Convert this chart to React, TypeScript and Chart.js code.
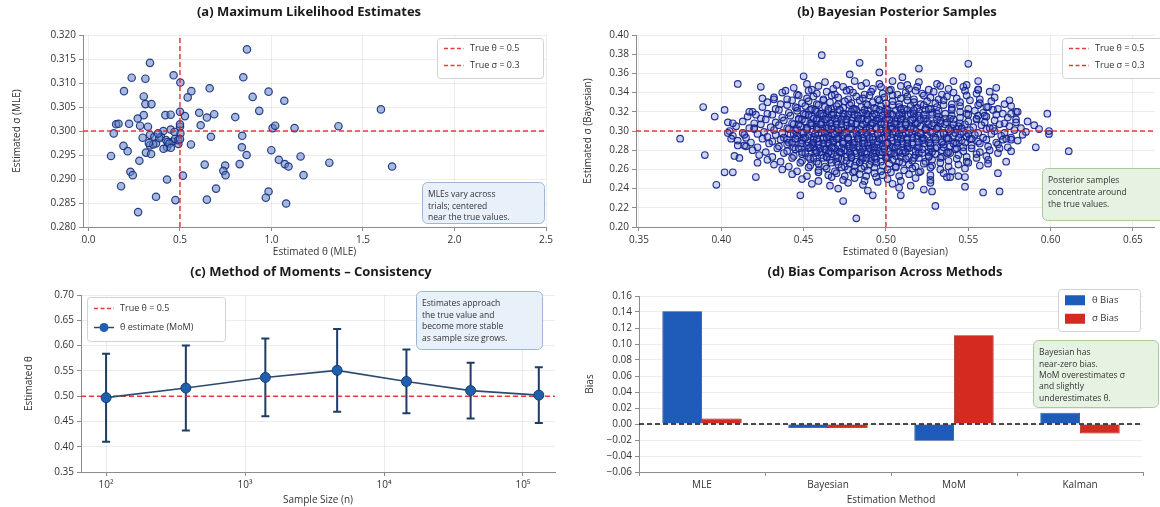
import React, { useEffect, useRef } from "react";
import { Chart, registerables } from "chart.js";

Chart.register(...registerables);

const FONT = "'Open Sans', 'Noto Sans', 'DejaVu Sans', sans-serif";
Chart.defaults.font.family = FONT;

// ---------- shared values ----------
const trueTheta = 0.5;
const trueSigma = 0.3;

// ---------- (a) MLE estimates ----------
const mleTheta = [
  0.866, 0.336, 0.236, 0.311, 0.465, 0.502, 0.194, 0.562, 0.662, 0.846, 0.897, 0.984, 1.07, 0.933,
  0.302, 0.311, 0.344, 0.542, 0.302, 0.269, 0.42, 0.449, 0.5, 0.527, 0.605, 0.647, 0.687, 0.802,
  0.613, 1.006, 1.02, 1.126, 0.151, 0.164, 0.222, 0.138, 0.282, 0.325, 0.296, 0.336, 0.36, 0.396,
  0.424, 0.449, 0.46, 0.5, 0.502, 0.491, 0.56, 0.669, 0.84, 0.838, 0.864, 0.191, 0.214, 0.123,
  0.336, 0.369, 0.429, 0.314, 0.342, 0.278, 0.635, 0.747, 0.826, 0.999, 1.04, 1.073, 1.093, 1.159,
  1.175, 0.229, 0.242, 0.516, 0.429, 0.737, 0.749, 0.178, 0.697, 0.369, 0.475, 0.647, 0.984, 0.969,
  1.08, 0.271, 0.433, 0.409, 0.387, 0.354, 0.473, 0.442, 0.491, 1.598, 1.366, 1.316, 1.659, 0.38,
  0.45, 0.47, 0.5, 0.5, 0.33, 0.41,
];
const mleSigma = [
  0.317, 0.3142, 0.3111, 0.3109, 0.3116, 0.3101, 0.3083, 0.3083, 0.3089, 0.3112, 0.3071, 0.3082, 0.3063, 0.3042,
  0.3072, 0.3056, 0.3056, 0.307, 0.3033, 0.3026, 0.3033, 0.3034, 0.304, 0.3031, 0.3038, 0.3028, 0.3035, 0.3029,
  0.3012, 0.3006, 0.3011, 0.3006, 0.3014, 0.3015, 0.3015, 0.2995, 0.3011, 0.3009, 0.2986, 0.2992, 0.2988, 0.2988,
  0.2981, 0.3003, 0.2978, 0.3009, 0.2995, 0.2973, 0.2972, 0.2988, 0.299, 0.2966, 0.295, 0.2969, 0.2958, 0.2948,
  0.297, 0.2974, 0.2966, 0.2955, 0.2952, 0.2938, 0.293, 0.2928, 0.2931, 0.296, 0.294, 0.2931, 0.2926, 0.2947,
  0.2908, 0.2915, 0.2908, 0.2907, 0.2899, 0.2917, 0.2908, 0.2885, 0.288, 0.2863, 0.2856, 0.2857, 0.2874, 0.2861,
  0.2849, 0.2831, 0.2977, 0.3, 0.2985, 0.2972, 0.2984, 0.2974, 0.2981, 0.3045, 0.301, 0.2934, 0.2926, 0.2995,
  0.2965, 0.2998, 0.3014, 0.2983, 0.2975, 0.2963,
];
const mleXTicks = [0, 0.5, 1.0, 1.5, 2.0, 2.5];
const mleYTicks = [0.28, 0.285, 0.29, 0.295, 0.3, 0.305, 0.31, 0.315, 0.32];

// ---------- (b) Bayesian posterior samples (theta, sigma in thousandths) ----------
const bayesCloud: number[][] = [
  [452,349],[463,351],[470,348],[481,352],[488,350],[496,349],[504,352],[513,348],[520,351],[531,349],[541,352],[549,348],
  [444,345],[455,343],[459,347],[468,344],[474,346],[478,343],[485,347],[492,344],[497,346],[503,343],[509,347],[514,344],[519,346],[526,343],[533,347],[538,344],[547,346],[556,343],
  [437,340],[446,338],[453,342],[458,339],[464,341],[469,338],[476,342],[480,340],[487,338],[491,341],[498,339],[502,342],[507,338],[512,340],[518,342],[522,339],[529,341],[534,338],[541,340],[548,342],[555,339],[563,341],
  [432,335],[440,333],[447,337],[452,334],[456,336],[462,333],[467,337],[471,335],[477,333],[482,336],[486,334],[490,337],[495,333],[499,335],[504,337],[509,334],[513,336],[517,333],[523,337],[527,335],[532,333],[537,336],[543,334],[549,337],[557,333],[566,335],
  [428,330],[436,328],[443,332],[449,329],[453,331],[458,328],[462,332],[466,330],[471,328],[475,331],[479,329],[484,332],[488,328],[492,330],[496,332],[500,329],[504,331],[508,328],[513,332],[517,330],[521,328],[525,331],[530,329],[535,332],[540,328],[545,330],[551,332],[557,329],[564,331],[572,328],
  [425,325],[433,323],[440,327],[446,324],[451,326],[455,323],[459,327],[463,325],[467,323],[470,326],[474,324],[478,327],[481,323],[485,325],[489,327],[493,324],[497,326],[500,323],[504,327],[508,325],[511,323],[515,326],[519,324],[523,327],[527,323],[531,325],[535,327],[540,324],[545,326],[550,323],[556,327],[561,325],[568,323],[576,326],
  [419,320],[428,318],[435,322],[441,319],[446,321],[450,318],[454,322],[458,320],[461,318],[465,321],[468,319],[472,322],[475,318],[479,320],[482,322],[486,319],[489,321],[493,318],[496,322],[499,320],[503,318],[506,321],[510,319],[513,322],[517,318],[520,320],[524,322],[528,319],[532,321],[536,318],[540,322],[545,320],[549,318],[554,321],[559,319],[565,322],[571,318],[579,320],
  [416,315],[424,313],[431,317],[437,314],[442,316],[447,313],[451,317],[455,315],[458,313],[462,316],[465,314],[468,317],[471,313],[474,315],[477,317],[480,314],[483,316],[486,313],[489,317],[492,315],[495,313],[498,316],[501,314],[504,317],[507,313],[510,315],[513,317],[517,314],[520,316],[524,313],[528,317],[532,315],[536,313],[540,316],[545,314],[550,317],[555,313],[561,315],[567,317],[574,314],
  [413,310],[420,308],[427,312],[433,309],[438,311],[443,308],[447,312],[451,310],[455,308],[458,311],[461,309],[464,312],[467,308],[470,310],[473,312],[476,309],[479,311],[482,308],[485,312],[488,310],[491,308],[494,311],[497,309],[500,312],[503,308],[506,310],[509,312],[512,309],[515,311],[518,308],[521,312],[525,310],[529,308],[533,311],[537,309],[541,312],[545,308],[550,310],[555,312],[560,309],[566,311],[572,308],[579,312],[586,310],
  [409,305],[417,303],[424,307],[430,304],[435,306],[440,303],[444,307],[448,305],[452,303],[455,306],[458,304],[461,307],[464,303],[467,305],[470,307],[473,304],[476,306],[479,303],[482,307],[485,305],[488,303],[491,306],[494,304],[497,307],[500,303],[503,305],[506,307],[509,304],[512,306],[515,303],[518,307],[521,305],[524,303],[528,306],[532,304],[536,307],[540,303],[544,305],[548,307],[553,304],[558,306],[563,303],[569,307],[575,305],[582,303],[590,306],
  [405,300],[413,298],[420,302],[426,299],[432,301],[437,298],[441,302],[445,300],[449,298],[452,301],[455,299],[458,302],[461,298],[464,300],[467,302],[470,299],[473,301],[476,298],[479,302],[482,300],[485,298],[488,301],[491,299],[494,302],[497,298],[500,300],[503,302],[506,299],[509,301],[512,298],[515,302],[518,300],[521,298],[524,301],[527,299],[531,302],[535,298],[539,300],[543,302],[547,299],[551,301],[556,298],[561,302],[566,300],[572,298],[578,301],[585,299],[593,302],
  [407,295],[415,293],[422,297],[428,294],[433,296],[438,293],[442,297],[446,295],[450,293],[453,296],[456,294],[459,297],[462,293],[465,295],[468,297],[471,294],[474,296],[477,293],[480,297],[483,295],[486,293],[489,296],[492,294],[495,297],[498,293],[501,295],[504,297],[507,294],[510,296],[513,293],[516,297],[519,295],[522,293],[525,296],[529,294],[533,297],[537,293],[541,295],[545,297],[549,294],[554,296],[559,293],[564,297],[570,295],[576,293],[583,296],[440,291],[466,291],
  [410,290],[418,288],[425,292],[431,289],[436,291],[441,288],[445,292],[449,290],[453,288],[456,291],[459,289],[462,292],[465,288],[468,290],[471,292],[474,289],[477,291],[480,288],[483,292],[486,290],[489,288],[492,291],[495,289],[498,292],[501,288],[504,290],[507,292],[510,289],[513,291],[516,288],[519,292],[522,290],[526,288],[530,291],[534,289],[538,292],[542,288],[546,290],[551,292],[556,289],[561,291],[567,288],[573,292],[580,290],[455,286],[478,286],
  [414,285],[422,283],[429,287],[435,284],[440,286],[444,283],[448,287],[452,285],[456,283],[459,286],[462,284],[465,287],[468,283],[471,285],[474,287],[477,284],[480,286],[483,283],[486,287],[489,285],[492,283],[495,286],[498,284],[501,287],[504,283],[507,285],[510,287],[513,284],[516,286],[519,283],[523,287],[527,285],[531,283],[535,286],[539,284],[543,287],[547,283],[552,285],[557,287],[562,284],[568,286],[574,283],[463,281],[491,281],
  [419,280],[427,278],[434,282],[440,279],[445,281],[449,278],[453,282],[457,280],[460,278],[463,281],[466,279],[469,282],[472,278],[475,280],[478,282],[481,279],[484,281],[487,278],[490,282],[493,280],[496,278],[499,281],[502,279],[505,282],[508,278],[511,280],[514,282],[518,279],[522,281],[526,278],[530,282],[534,280],[538,278],[542,281],[547,279],[552,282],[557,278],[563,280],[569,282],[576,279],
  [423,275],[431,273],[438,277],[444,274],[449,276],[453,273],[457,277],[461,275],[464,273],[467,276],[470,274],[473,277],[476,273],[479,275],[482,277],[485,274],[488,276],[491,273],[494,277],[497,275],[500,273],[503,276],[506,274],[510,277],[514,273],[518,275],[522,277],[526,274],[530,276],[534,273],[539,277],[544,275],[549,273],[555,276],[561,274],[568,277],
  [428,270],[436,268],[443,272],[449,269],[454,271],[458,268],[462,272],[466,270],[470,268],[473,271],[476,269],[479,272],[482,268],[485,270],[488,272],[491,269],[494,271],[497,268],[500,272],[504,270],[508,268],[512,271],[516,269],[520,272],[524,268],[528,270],[533,272],[538,269],[543,271],[549,268],[555,272],[562,270],
  [432,265],[441,263],[448,267],[454,264],[459,266],[463,263],[467,267],[471,265],[475,263],[478,266],[481,264],[484,267],[487,263],[490,265],[494,267],[498,264],[502,266],[506,263],[510,267],[514,265],[518,263],[523,266],[528,264],[533,267],[538,263],[544,265],[550,267],[557,264],
  [437,260],[446,258],[453,262],[459,259],[464,261],[469,258],[473,262],[477,260],[481,258],[485,261],[489,259],[493,262],[497,258],[501,260],[506,262],[511,259],[516,261],[521,258],[527,262],[533,260],[540,258],[548,261],
  [443,255],[452,253],[459,257],[465,254],[470,256],[475,253],[480,257],[484,255],[488,253],[493,256],[498,254],[503,257],[508,253],[514,255],[520,257],[527,254],[535,256],[544,253],
  [449,250],[459,248],[467,252],[474,249],[481,251],[487,248],[494,252],[501,250],[509,248],[518,251],[527,249],[537,252],
  [455,245],[466,243],[477,246],[486,244],[495,247],[504,245],[515,243],[527,246],
  [471,240],[489,238],[508,241],[523,239],
];
const bayesCore: number[][] = [
  [443,288],[449,287],[456,288],[462,287],[468,288],[474,287],[481,288],[487,287],[494,288],[500,287],[507,288],[513,287],[520,288],[527,287],[534,288],[541,287],[548,288],
  [445,292],[451,293],[458,292],[464,293],[470,292],[477,293],[483,292],[490,293],[496,292],[503,293],[509,292],[516,293],[523,292],[530,293],[537,292],[544,293],[552,292],
  [444,297],[450,298],[457,297],[463,298],[469,297],[475,298],[482,297],[488,298],[495,297],[501,298],[508,297],[514,298],[521,297],[528,298],[535,297],[542,298],[550,297],
  [446,302],[452,303],[459,302],[465,303],[471,302],[478,303],[484,302],[490,303],[497,302],[504,303],[510,302],[517,303],[524,302],[531,303],[538,302],[546,303],
  [447,307],[454,308],[460,307],[466,308],[473,307],[479,308],[486,307],[492,308],[499,307],[505,308],[512,307],[519,308],[526,307],[533,308],[541,307],
  [449,312],[456,313],[463,312],[469,313],[476,312],[483,313],[489,312],[496,313],[502,312],[509,313],[516,312],[523,313],[531,312],[539,313],
  [447,282],[454,283],[460,282],[467,283],[473,282],[480,283],[486,282],[493,283],[499,282],[506,283],[513,282],[520,283],[527,282],[535,283],[543,282],
  [451,277],[458,278],[465,277],[472,278],[478,277],[485,278],[492,277],[498,278],[505,277],[512,278],[520,277],[528,278],[537,277],
  [453,317],[460,318],[467,317],[474,318],[481,317],[488,318],[494,317],[501,318],[508,317],[515,318],[523,317],[531,318],
  [457,322],[465,323],[472,322],[480,323],[487,322],[494,323],[501,322],[509,323],[517,322],[526,323],
  [456,272],[464,273],[471,272],[479,273],[486,272],[493,273],[501,272],[509,273],[517,272],[526,273],
];
const bayesOutliers: number[][] = [
  [375,292],[389,325],[390,275],[397,244],[402,322],[396,315],[410,349],[404,309],[407,308],[404,298],[406,292],[402,257],
  [407,257],[408,274],[411,272],[410,285],[415,284],[421,252],[422,267],[424,346],[425,334],[432,333],[417,320],[421,317],
  [414,296],[420,303],[439,342],[445,325],[448,233],[450,357],[461,379],[474,227],[478,359],[484,371],[482,209],[492,233],
  [496,361],[509,233],[510,356],[520,365],[530,222],[528,237],[539,252],[548,252],[548,242],[550,370],[556,352],[559,236],
  [567,345],[569,237],[568,256],[573,268],[575,332],[576,318],[579,309],[580,320],[571,291],[576,291],[591,283],[598,318],
  [599,297],[599,300],[611,279],[562,266],[556,316],[560,316],[562,325],[565,303],[556,343],
];
const bayesXTicks = [0.35, 0.4, 0.45, 0.5, 0.55, 0.6, 0.65];
const bayesYTicks = [0.2, 0.22, 0.24, 0.26, 0.28, 0.3, 0.32, 0.34, 0.36, 0.38, 0.4];

// ---------- (c) Method of moments ----------
const sampleSizes = [100, 375, 1400, 4600, 14500, 42000, 130000];
const momMean = [0.497, 0.516, 0.537, 0.551, 0.529, 0.511, 0.502];
const momErr = [0.087, 0.084, 0.077, 0.082, 0.063, 0.055, 0.055];
const momXTicks = [100, 1000, 10000, 100000];
const momYTicks = [0.35, 0.4, 0.45, 0.5, 0.55, 0.6, 0.65, 0.7];

// ---------- (d) Bias comparison ----------
const methods = ["MLE", "Bayesian", "MoM", "Kalman"];
const thetaBias = [0.141, -0.005, -0.021, 0.014];
const sigmaBias = [0.007, -0.005, 0.111, -0.012];
const biasYTicks = [-0.06, -0.04, -0.02, 0, 0.02, 0.04, 0.06, 0.08, 0.1, 0.12, 0.14, 0.16];

// ---------- styling ----------
const RED = "rgba(226, 40, 40, 0.9)";
const GRID = "rgba(0,0,0,0.07)";
const AXIS = "#8c8c8c";
const TXT = "#333333";
const BLUE_BAR = "#1f5bb8";
const RED_BAR = "#d42b20";
const TICK_SIZE = 10;
const LABEL_SIZE = 10;

const fmt = (v: number, d: number) => v.toFixed(d).replace("-", "\u2212");
const SUP: Record<string, string> = { "0": "\u2070", "1": "\u00b9", "2": "\u00b2", "3": "\u00b3", "4": "\u2074", "5": "\u2075", "6": "\u2076" };

function axis(o: any) {
  return {
    type: o.type || "linear",
    min: o.min,
    max: o.max,
    afterBuildTicks: o.ticks ? (s: any) => { s.ticks = o.ticks.map((v: number) => ({ value: v })); } : undefined,
    afterFit: o.fit,
    ticks: { font: { family: FONT, size: TICK_SIZE }, color: TXT, padding: 3, callback: o.cb },
    grid: { color: GRID, tickLength: 4, tickColor: AXIS, drawOnChartArea: o.grid !== false },
    border: { color: AXIS, width: 1 },
    title: { display: true, text: o.title, font: { family: FONT, size: LABEL_SIZE }, color: TXT, padding: o.titlePad },
  };
}

type LegendItem = { label: string; kind: "dash" | "linemarker" | "rect"; color: string };
type Overlay = {
  title: string;
  titleX?: number;
  titleY: number;
  legend?: { x: number; y: number; w: number; h: number; rowH: number; font: number; items: LegendItem[] };
  note?: { x: number; y: number; w: number; h: number; fill: string; stroke: string; lines: string[]; font: number; rowH: number };
};

function overlay(o: Overlay) {
  return {
    id: "overlay",
    afterDraw(chart: any) {
      const ctx = chart.ctx as CanvasRenderingContext2D;
      const ca = chart.chartArea;
      ctx.save();
      ctx.fillStyle = "#1a1a1a";
      ctx.font = `bold 13px ${FONT}`;
      ctx.textAlign = "center";
      ctx.textBaseline = "middle";
      ctx.fillText(o.title, o.titleX ?? (ca.left + ca.right) / 2, o.titleY);
      if (o.legend) {
        const L = o.legend;
        ctx.beginPath();
        ctx.roundRect(L.x + 0.5, L.y + 0.5, L.w, L.h, 3);
        ctx.fillStyle = "rgba(255,255,255,0.9)";
        ctx.fill();
        ctx.strokeStyle = "#d2d2d2";
        ctx.lineWidth = 1;
        ctx.stroke();
        L.items.forEach((it, i) => {
          const cy = L.y + L.rowH * (i + 0.5) + 2;
          const x0 = L.x + 7;
          if (it.kind === "dash") {
            ctx.beginPath();
            ctx.setLineDash([4, 2.5]);
            ctx.strokeStyle = it.color;
            ctx.lineWidth = 1.5;
            ctx.moveTo(x0, cy);
            ctx.lineTo(x0 + 20, cy);
            ctx.stroke();
            ctx.setLineDash([]);
          } else if (it.kind === "linemarker") {
            ctx.beginPath();
            ctx.strokeStyle = "#2d4a6e";
            ctx.lineWidth = 1.5;
            ctx.moveTo(x0, cy);
            ctx.lineTo(x0 + 20, cy);
            ctx.stroke();
            ctx.beginPath();
            ctx.fillStyle = it.color;
            ctx.arc(x0 + 10, cy, 4.5, 0, Math.PI * 2);
            ctx.fill();
          } else {
            ctx.fillStyle = it.color;
            ctx.fillRect(x0, cy - 5, 20, 10);
          }
          ctx.fillStyle = TXT;
          ctx.font = `${L.font}px ${FONT}`;
          ctx.textAlign = "left";
          ctx.fillText(it.label, x0 + (it.kind === "rect" ? 27 : 26), cy);
        });
      }
      if (o.note) {
        const N = o.note;
        ctx.beginPath();
        ctx.roundRect(N.x + 0.5, N.y + 0.5, N.w, N.h, 5);
        ctx.fillStyle = N.fill;
        ctx.fill();
        ctx.strokeStyle = N.stroke;
        ctx.lineWidth = 1;
        ctx.stroke();
        ctx.fillStyle = TXT;
        ctx.font = `${N.font}px ${FONT}`;
        ctx.textAlign = "left";
        N.lines.forEach((ln, i) => {
          ctx.fillText(ln, N.x + 6, N.y + 7 + N.rowH * (i + 0.5));
        });
      }
      ctx.restore();
    },
  };
}

const noBlue = { fill: "#e8f0fa", stroke: "#9fb6d3" };
const noGreen = { fill: "#e6f3e2", stroke: "#a6cb9d" };

function refLine(label: string, pts: { x: number; y: number }[]) {
  return {
    label,
    data: pts,
    showLine: true,
    borderColor: RED,
    borderWidth: 1.5,
    borderDash: [5, 3],
    pointRadius: 0,
    fill: false,
    order: 0,
  };
}

function makeA(c: HTMLCanvasElement) {
  const xmin = -0.03, xmax = 2.5, ymin = 0.28, ymax = 0.32;
  return new Chart(c, {
    type: "scatter",
    data: {
      datasets: [
        refLine("True θ = 0.5", [{ x: trueTheta, y: ymin }, { x: trueTheta, y: ymax }]),
        refLine("True σ = 0.3", [{ x: xmin, y: trueSigma }, { x: xmax, y: trueSigma }]),
        {
          label: "MLE",
          data: mleTheta.map((t, i) => ({ x: t, y: mleSigma[i] })),
          pointRadius: 3.7,
          backgroundColor: "rgba(95,130,195,0.55)",
          borderColor: "rgba(22,45,125,0.9)",
          borderWidth: 1.2,
          order: 1,
        },
      ],
    } as any,
    options: {
      animation: false,
      responsive: false,
      events: [],
      layout: { padding: { left: 0, right: 34, top: 35, bottom: 0 } },
      plugins: { legend: { display: false }, tooltip: { enabled: false } },
      scales: {
        x: axis({ min: xmin, max: xmax, ticks: mleXTicks, cb: (v: number) => fmt(v, 1), fit: (s: any) => { s.height = 33; }, title: "Estimated θ (MLE)", titlePad: { top: 0, bottom: 2 } }),
        y: axis({ min: ymin, max: ymax, ticks: mleYTicks, cb: (v: number) => fmt(v, 3), fit: (s: any) => { s.width = 83; }, title: "Estimated σ (MLE)", titlePad: { top: 11, bottom: 0 } }),
      },
    } as any,
    plugins: [
      overlay({
        title: "(a) Maximum Likelihood Estimates",
        titleX: 309,
        titleY: 12,
        legend: { x: 437, y: 38, w: 106, h: 40, rowH: 17, font: 9, items: [
          { label: "True θ = 0.5", kind: "dash", color: RED },
          { label: "True σ = 0.3", kind: "dash", color: RED },
        ] },
        note: { x: 422, y: 182, w: 122, h: 41, ...noBlue, font: 8.5, rowH: 11.5, lines: ["MLEs vary across", "trials; centered", "near the true values."] },
      }),
    ],
  });
}

function makeB(c: HTMLCanvasElement) {
  const xmin = 0.3482, xmax = 0.6633, ymin = 0.2, ymax = 0.4;
  const pts = bayesCloud.concat(bayesCore, bayesOutliers).map(([t, s]) => ({ x: t / 1000, y: s / 1000 }));
  return new Chart(c, {
    type: "scatter",
    data: {
      datasets: [
        refLine("True θ = 0.5", [{ x: trueTheta, y: ymin }, { x: trueTheta, y: ymax }]),
        refLine("True σ = 0.3", [{ x: xmin, y: trueSigma }, { x: xmax, y: trueSigma }]),
        {
          label: "Posterior",
          data: pts,
          pointRadius: 3.3,
          backgroundColor: "rgba(60,90,195,0.26)",
          borderColor: "rgba(22,34,140,0.92)",
          borderWidth: 1.15,
          order: 1,
        },
      ],
    } as any,
    options: {
      animation: false,
      responsive: false,
      events: [],
      layout: { padding: { left: 0, right: 0, top: 35, bottom: 0 } },
      plugins: { legend: { display: false }, tooltip: { enabled: false } },
      scales: {
        x: axis({ min: xmin, max: xmax, ticks: bayesXTicks, cb: (v: number) => fmt(v, 2), fit: (s: any) => { s.height = 33; }, title: "Estimated θ (Bayesian)", titlePad: { top: 0, bottom: 2 } }),
        y: axis({ min: ymin, max: ymax, ticks: bayesYTicks, cb: (v: number) => fmt(v, 2), fit: (s: any) => { s.width = 54; }, title: "Estimated σ (Bayesian)", titlePad: { top: 0, bottom: 0 } }),
      },
    } as any,
    plugins: [
      overlay({
        title: "(b) Bayesian Posterior Samples",
        titleX: 315,
        titleY: 12,
        legend: { x: 480, y: 38, w: 115, h: 40, rowH: 17, font: 9, items: [
          { label: "True θ = 0.5", kind: "dash", color: RED },
          { label: "True σ = 0.3", kind: "dash", color: RED },
        ] },
        note: { x: 460, y: 168, w: 125, h: 52, ...noGreen, font: 8.5, rowH: 12, lines: ["Posterior samples", "concentrate around", "the true values."] },
      }),
    ],
  });
}

const errorBars = {
  id: "errorBars",
  beforeDatasetsDraw(chart: any) {
    const ctx = chart.ctx as CanvasRenderingContext2D;
    const xs = chart.scales.x, ys = chart.scales.y;
    ctx.save();
    ctx.strokeStyle = "#1d3c66";
    ctx.lineWidth = 2;
    sampleSizes.forEach((n, i) => {
      const px = xs.getPixelForValue(n);
      const top = ys.getPixelForValue(momMean[i] + momErr[i]);
      const bot = ys.getPixelForValue(momMean[i] - momErr[i]);
      ctx.beginPath();
      ctx.moveTo(px, top); ctx.lineTo(px, bot);
      ctx.moveTo(px - 4, top); ctx.lineTo(px + 4, top);
      ctx.moveTo(px - 4, bot); ctx.lineTo(px + 4, bot);
      ctx.stroke();
    });
    ctx.restore();
  },
};

function makeC(c: HTMLCanvasElement) {
  const xmin = 66, xmax = 170000;
  return new Chart(c, {
    type: "scatter",
    data: {
      datasets: [
        { ...refLine("True θ = 0.5", [{ x: xmin, y: trueTheta }, { x: xmax, y: trueTheta }]), order: 2 },
        {
          label: "θ estimate (MoM)",
          data: sampleSizes.map((n, i) => ({ x: n, y: momMean[i] })),
          showLine: true,
          borderColor: "#2d4a6e",
          borderWidth: 1.6,
          pointRadius: 5,
          pointBackgroundColor: "#1f5fae",
          pointBorderColor: "#173f73",
          pointBorderWidth: 1,
          order: 1,
        },
      ],
    } as any,
    options: {
      animation: false,
      responsive: false,
      events: [],
      layout: { padding: { left: 0, right: 25, top: 35, bottom: 0 } },
      plugins: { legend: { display: false }, tooltip: { enabled: false } },
      scales: {
        x: axis({ type: "logarithmic", min: xmin, max: xmax, ticks: momXTicks, cb: (v: number) => "10" + SUP[String(Math.round(Math.log10(v)))], fit: (s: any) => { s.height = 35; }, title: "Sample Size (n)", titlePad: { top: 0, bottom: 1 } }),
        y: axis({ min: 0.35, max: 0.7, ticks: momYTicks, cb: (v: number) => fmt(v, 2), fit: (s: any) => { s.width = 81; }, title: "Estimated θ", titlePad: { top: 23, bottom: 0 } }),
      },
    } as any,
    plugins: [
      errorBars,
      overlay({
        title: "(c) Method of Moments \u2013 Consistency",
        titleX: 311,
        titleY: 12,
        legend: { x: 87, y: 37, w: 138, h: 44, rowH: 19, font: 9, items: [
          { label: "True θ = 0.5", kind: "dash", color: RED },
          { label: "θ estimate (MoM)", kind: "linemarker", color: "#1f5fae" },
        ] },
        note: { x: 416, y: 31, w: 126, h: 58, ...noBlue, font: 8.5, rowH: 11.5, lines: ["Estimates approach", "the true value and", "become more stable", "as sample size grows."] },
      }),
    ],
  });
}

const zeroLine = {
  id: "zeroLine",
  afterDatasetsDraw(chart: any) {
    const ctx = chart.ctx as CanvasRenderingContext2D;
    const y = chart.scales.y.getPixelForValue(0);
    const ca = chart.chartArea;
    ctx.save();
    ctx.strokeStyle = "#111";
    ctx.lineWidth = 1.3;
    ctx.setLineDash([5, 3]);
    ctx.beginPath();
    ctx.moveTo(ca.left, y);
    ctx.lineTo(ca.right, y);
    ctx.stroke();
    ctx.restore();
  },
};

function makeD(c: HTMLCanvasElement) {
  return new Chart(c, {
    type: "bar",
    data: {
      labels: methods,
      datasets: [
        { label: "θ Bias", data: thetaBias, backgroundColor: BLUE_BAR, borderColor: "#174a96", borderWidth: 0.8, categoryPercentage: 0.63, barPercentage: 1.0 },
        { label: "σ Bias", data: sigmaBias, backgroundColor: RED_BAR, borderColor: "#a81e16", borderWidth: 0.8, categoryPercentage: 0.63, barPercentage: 1.0 },
      ],
    } as any,
    options: {
      animation: false,
      responsive: false,
      events: [],
      layout: { padding: { left: 0, right: 17, top: 36, bottom: 0 } },
      plugins: { legend: { display: false }, tooltip: { enabled: false } },
      scales: {
        x: axis({ type: "category", cb: (v: number) => methods[v], fit: (s: any) => { s.height = 35; }, title: "Estimation Method", titlePad: { top: 0, bottom: 1 }, grid: false }),
        y: axis({ min: -0.06, max: 0.16, ticks: biasYTicks, cb: (v: number) => fmt(v, 2), fit: (s: any) => { s.width = 57; }, title: "Bias", titlePad: { top: 2, bottom: 0 } }),
      },
    } as any,
    plugins: [
      zeroLine,
      overlay({
        title: "(d) Bias Comparison Across Methods",
        titleX: 303,
        titleY: 12,
        legend: { x: 476, y: 29, w: 82, h: 42, rowH: 18.5, font: 9.5, items: [
          { label: "θ Bias", kind: "rect", color: BLUE_BAR },
          { label: "σ Bias", kind: "rect", color: RED_BAR },
        ] },
        note: { x: 451, y: 80, w: 125, h: 67, ...noGreen, font: 8.5, rowH: 11.4, lines: ["Bayesian has", "near-zero bias.", "MoM overestimates σ", "and slightly", "underestimates θ."] },
      }),
    ],
  });
}

export default function App() {
  const aRef = useRef<HTMLCanvasElement>(null);
  const bRef = useRef<HTMLCanvasElement>(null);
  const cRef = useRef<HTMLCanvasElement>(null);
  const dRef = useRef<HTMLCanvasElement>(null);

  useEffect(() => {
    const charts = [makeA(aRef.current!), makeB(bRef.current!), makeC(cRef.current!), makeD(dRef.current!)];
    return () => charts.forEach((ch) => ch.destroy());
  }, []);

  const pos = (l: number, t: number, w: number, h: number): React.CSSProperties => ({ position: "absolute", left: l, top: t, width: w, height: h });

  return (
    <div style={{ position: "fixed", left: 0, top: 0, width: 1160, height: 507, background: "#fff", overflow: "hidden" }}>
      <canvas ref={aRef} width={580} height={260} style={pos(0, 0, 580, 260)} />
      <canvas ref={bRef} width={578} height={260} style={pos(582, 0, 578, 260)} />
      <canvas ref={cRef} width={580} height={247} style={pos(0, 260, 580, 247)} />
      <canvas ref={dRef} width={578} height={247} style={pos(582, 260, 578, 247)} />
    </div>
  );
}
